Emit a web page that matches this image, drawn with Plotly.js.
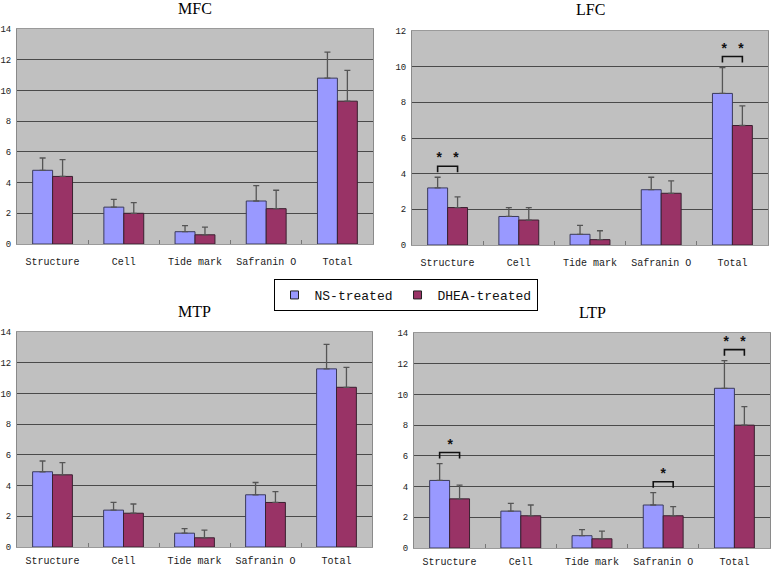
<!DOCTYPE html>
<html>
<head>
<meta charset="utf-8">
<script src="https://cdn.plot.ly/plotly-3.0.1.min.js"></script>
<style>html,body{margin:0;padding:0;background:#fff;}#chart{width:778px;height:570px;}</style>
</head>
<body>
<div id="chart"></div>
<script>
// ---- data ----
const categories = ['Structure', 'Cell', 'Tide mark', 'Safranin O', 'Total'];
const seriesNames = ['NS-treated', 'DHEA-treated'];

const mfcNS = [4.8, 2.4, 0.8, 2.8, 10.8];
const mfcNSErr = [0.8, 0.5, 0.4, 1.0, 1.7];
const mfcDH = [4.4, 2.0, 0.6, 2.3, 9.3];
const mfcDHErr = [1.1, 0.7, 0.5, 1.2, 2.0];

const lfcNS = [3.2, 1.6, 0.6, 3.1, 8.5];
const lfcNSErr = [0.6, 0.5, 0.5, 0.7, 1.45];
const lfcDH = [2.1, 1.4, 0.3, 2.9, 6.7];
const lfcDHErr = [0.6, 0.7, 0.5, 0.7, 1.1];

const mtpNS = [4.9, 2.4, 0.9, 3.4, 11.6];
const mtpNSErr = [0.7, 0.5, 0.3, 0.8, 1.6];
const mtpDH = [4.7, 2.2, 0.6, 2.9, 10.4];
const mtpDHErr = [0.8, 0.6, 0.5, 0.7, 1.3];

const ltpNS = [4.4, 2.4, 0.8, 2.8, 10.4];
const ltpNSErr = [1.1, 0.5, 0.4, 0.8, 1.8];
const ltpDH = [3.2, 2.1, 0.6, 2.1, 8.0];
const ltpDHErr = [0.9, 0.7, 0.5, 0.6, 1.2];

const mfcSig = ['', '', '', '', ''];
const lfcSig = ['* *', '', '', '', '* *'];
const mtpSig = ['', '', '', '', ''];
const ltpSig = ['*', '', '', '*', '* *'];

const panelTitles = ['MFC', 'LFC', 'MTP', 'LTP'];
const yMax = [14, 12, 14, 14];

// ---- styles ----
const colNS = '#9999FF';
const colDH = '#993366';
const W = 778, H = 570;
const panels = [
  {t: panelTitles[0], ns: mfcNS, nsE: mfcNSErr, dh: mfcDH, dhE: mfcDHErr, sig: mfcSig, x: [17, 373], y: [29, 244], ymax: yMax[0], so: 8},
  {t: panelTitles[1], ns: lfcNS, nsE: lfcNSErr, dh: lfcDH, dhE: lfcDHErr, sig: lfcSig, x: [412, 768], y: [31, 245], ymax: yMax[1], so: 8},
  {t: panelTitles[2], ns: mtpNS, nsE: mtpNSErr, dh: mtpDH, dhE: mtpDHErr, sig: mtpSig, x: [17, 372], y: [332, 547], ymax: yMax[2], so: 4},
  {t: panelTitles[3], ns: ltpNS, nsE: ltpNSErr, dh: ltpDH, dhE: ltpDHErr, sig: ltpSig, x: [414, 770], y: [333, 548], ymax: yMax[3], so: 4}
];

const bargap = 0.44;
const halfOff = (1 - bargap) / 4;
const monoFam = 'Liberation Mono, DejaVu Sans Mono, monospace';

const data = [];
const layout = {
  width: W, height: H,
  margin: {l: 0, r: 0, t: 0, b: 0},
  paper_bgcolor: '#ffffff',
  barmode: 'group',
  bargap: bargap,
  bargroupgap: 0,
  showlegend: true,
  legend: {
    orientation: 'h',
    x: 405.5 / W, xanchor: 'center',
    y: 1 - 279 / H, yanchor: 'top',
    bordercolor: '#000', borderwidth: 1, bgcolor: '#fff',
    font: {family: monoFam, size: 13, color: '#111'},
    itemwidth: 30,
    tracegroupgap: 0
  },
  annotations: [],
  shapes: []
};

panels.forEach((p, i) => {
  const n = i + 1;
  const xa = n === 1 ? 'x' : 'x' + n;
  const ya = n === 1 ? 'y' : 'y' + n;
  const xKey = n === 1 ? 'xaxis' : 'xaxis' + n;
  const yKey = n === 1 ? 'yaxis' : 'yaxis' + n;
  const zeros = p.ns.map(() => 0);
  data.push({
    type: 'bar', x: categories, y: p.ns, name: seriesNames[0], xaxis: xa, yaxis: ya,
    marker: {color: colNS, line: {color: '#3a3a5a', width: 1}},
    error_y: {type: 'data', symmetric: false, array: p.nsE, arrayminus: zeros, color: '#555', thickness: 1.3, width: 3},
    showlegend: false, hoverinfo: 'skip'
  });
  data.push({
    type: 'bar', x: categories, y: p.dh, name: seriesNames[1], xaxis: xa, yaxis: ya,
    marker: {color: colDH, line: {color: '#3a2030', width: 1}},
    error_y: {type: 'data', symmetric: false, array: p.dhE, arrayminus: zeros, color: '#555', thickness: 1.3, width: 3},
    showlegend: false, hoverinfo: 'skip'
  });
  layout[xKey] = {
    domain: [p.x[0] / W, p.x[1] / W],
    anchor: ya,
    type: 'category',
    categoryorder: 'array', categoryarray: categories,
    range: [-0.5, 4.5],
    showgrid: false, zeroline: false,
    showline: true, linecolor: '#9a9a9a', linewidth: 1, mirror: true,
    ticks: 'inside', tickson: 'boundaries', ticklen: 4, tickcolor: '#777', tickwidth: 1,
    tickfont: {family: monoFam, size: 10, color: '#1a1a1a'},
    ticklabelstandoff: p.so,
    fixedrange: true
  };
  layout[yKey] = {
    domain: [1 - p.y[1] / H, 1 - p.y[0] / H],
    anchor: xa,
    range: [0, p.ymax],
    dtick: 2, tick0: 0,
    showgrid: true, gridcolor: '#4a4a4a', gridwidth: 1,
    zeroline: false,
    showline: true, linecolor: '#8a8a8a', linewidth: 1, mirror: true,
    ticks: '',
    tickfont: {family: monoFam, size: 9, color: '#222'},
    ticklabelstandoff: 3,
    fixedrange: true
  };
  layout.shapes.push({
    type: 'rect', xref: xa + ' domain', yref: ya + ' domain', x0: 0, x1: 1, y0: 0, y1: 1,
    fillcolor: '#c0c0c0', line: {width: 0}, layer: 'below'
  });
  layout.annotations.push({
    text: p.t, xref: xa + ' domain', yref: ya + ' domain', x: 0.5, y: 1,
    yshift: 21, xanchor: 'center', yanchor: 'middle', showarrow: false,
    font: {family: 'Liberation Serif, serif', size: 16, color: '#000'}
  });
  // significance brackets computed from the data
  const upp = p.ymax / (p.y[1] - p.y[0]); // data units per pixel
  p.sig.forEach((s, k) => {
    if (!s) return;
    const top = Math.max(p.ns[k] + p.nsE[k], p.dh[k] + p.dhE[k]);
    const yEnd = top + 5 * upp, yTop = top + 11 * upp, yAst = top + 18 * upp;
    layout.shapes.push({
      type: 'path', xref: xa, yref: ya,
      path: 'M' + (k - halfOff) + ',' + yEnd + ' L' + (k - halfOff) + ',' + yTop +
            ' L' + (k + halfOff) + ',' + yTop + ' L' + (k + halfOff) + ',' + yEnd,
      line: {color: '#111', width: 1.6}
    });
    layout.annotations.push({
      text: '<b>' + s + '</b>', xref: xa, yref: ya, x: k, y: yAst, showarrow: false,
      xanchor: 'center', yanchor: 'middle',
      font: {family: monoFam, size: 14, color: '#111'}
    });
  });
});

// legend entries
data.push({type: 'scatter', mode: 'markers', x: [null], y: [null], name: seriesNames[0],
  marker: {symbol: 'square', size: 8, color: colNS, line: {color: '#222', width: 1}}, hoverinfo: 'skip'});
data.push({type: 'scatter', mode: 'markers', x: [null], y: [null], name: seriesNames[1],
  marker: {symbol: 'square', size: 8, color: colDH, line: {color: '#222', width: 1}}, hoverinfo: 'skip'});

Plotly.newPlot('chart', data, layout, {staticPlot: true, displayModeBar: false});
</script>
</body>
</html>
